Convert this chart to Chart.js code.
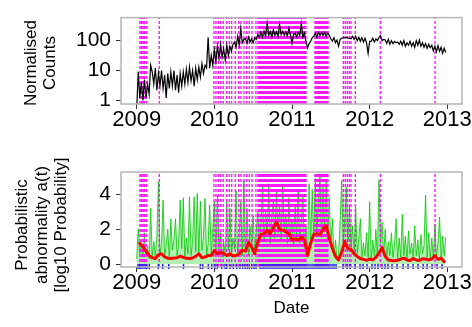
<!DOCTYPE html>
<html>
<head>
<meta charset="utf-8">
<script src="https://cdn.jsdelivr.net/npm/chart.js@4.4.1/dist/chart.umd.min.js"></script>
<style>
  html, body { margin: 0; padding: 0; background: #fff; }
  #wrap { position: relative; width: 472px; height: 327px; }
  canvas { position: absolute; left: 0; }
  #top { top: 0; }
  #bottom { top: 140px; }
</style>
</head>
<body>
<div id="wrap">
  <canvas id="top" width="472" height="140"></canvas>
  <canvas id="bottom" width="472" height="187"></canvas>
</div>
<script>
// sampling grid of the series (decimal years)
const seriesStart = 2009.0;
const seriesStep = 0.02;
const smoothStart = 2009.04;
const smoothStep = 0.04;

const yearTicks = [2009, 2010, 2011, 2012, 2013];
const countTicks = [1, 10, 100];
const abnormTicks = [0, 2, 4];

// normalised counts, one value per grid step
const counts = [
  0.5, 9, 1.2, 4, 1.0, 5, 1.2, 3.5, 1.6, 15,
  9, 3.5, 12, 2.2, 8, 3, 10, 2.5, 7, 1.2,
  8, 2.5, 9, 3, 10, 2.2, 7, 1.8, 8, 3,
  9, 3.5, 11, 4, 13, 4.5, 10, 3, 12, 5,
  13, 6, 17, 8, 15, 12, 130, 12, 32, 15,
  50, 20, 65, 25, 75, 28, 55, 22, 70, 32,
  65, 45, 75, 90, 60, 140, 70, 250, 85, 110,
  120, 80, 130, 90, 115, 85, 125, 110, 160, 130,
  190, 130, 210, 140, 380, 150, 200, 130, 230, 150,
  200, 140, 350, 160, 210, 150, 200, 140, 260, 160,
  80, 160, 180, 130, 190, 150, 380, 130, 180, 95,
  57, 80, 95, 125, 140, 180, 130, 190, 150, 185,
  150, 190, 140, 180, 150, 115, 95, 125, 85, 105,
  65, 110, 120, 125, 125, 130, 120, 120, 115, 140,
  110, 140, 100, 130, 95, 125, 90, 120, 85, 37,
  95, 95, 120, 90, 115, 100, 130, 150, 100, 110,
  105, 80, 110, 75, 100, 80, 95, 85, 90, 75,
  95, 70, 100, 65, 85, 70, 95, 65, 85, 60,
  100, 70, 105, 65, 85, 60, 80, 55, 75, 58,
  70, 45, 65, 42, 68, 44, 60, 38, 56, 40
];

// abnormality a(t), same grid
const abnormality = [
  0.3, 2.05, 0.6, 1.2, 0.4, 1.8, 0.5, 1.0, 0.3, 3.2,
  0.4, 1.3, 0.5, 1.6, 4.7, 0.6, 1.2, 3.66, 0.4, 1.1,
  2.0, 0.3, 2.6, 0.8, 1.4, 2.6, 0.5, 1.2, 3.66, 0.9,
  3.8, 0.4, 1.5, 0.6, 3.85, 0.5, 1.3, 3.85, 0.7, 4.05,
  0.5, 3.6, 0.8, 1.6, 3.77, 0.4, 1.2, 3.4, 0.6, 1.9,
  3.6, 0.5, 3.94, 0.7, 1.8, 0.4, 1.3, 0.6, 3.56, 0.8,
  3.2, 0.5, 1.5, 0.9, 4.2, 0.6, 1.7, 3.56, 0.5, 4.8,
  0.7, 3.2, 0.5, 2.2, 1.0, 2.8, 0.6, 1.9, 3.0, 1.2,
  2.4, 4.4, 1.3, 3.0, 1.6, 4.6, 1.2, 2.8, 3.6, 1.5,
  4.2, 1.8, 3.3, 1.4, 4.6, 2.0, 2.9, 1.2, 3.8, 1.6,
  2.6, 1.0, 3.4, 1.5, 4.3, 1.2, 2.5, 3.9, 1.0, 2.2,
  0.4, 4.6, 1.2, 4.3, 1.6, 4.9, 1.8, 3.6, 5.0, 1.5,
  4.4, 2.0, 4.8, 1.4, 3.8, 1.0, 2.6, 0.5, 1.4, 0.3,
  0.6, 2.5, 4.8, 1.2, 2.6, 4.4, 1.3, 3.3, 0.9, 2.2,
  0.5, 3.27, 0.6, 1.5, 2.6, 0.4, 1.2, 0.5, 1.8, 0.4,
  3.56, 0.3, 1.4, 0.5, 2.0, 0.4, 4.8, 1.2, 2.4, 0.5,
  2.0, 0.3, 1.3, 0.5, 1.8, 0.4, 1.1, 2.6, 0.3, 1.5,
  0.4, 2.85, 0.5, 1.6, 0.3, 1.9, 0.6, 1.2, 0.4, 2.2,
  0.5, 1.4, 0.3, 1.7, 0.6, 1.1, 3.94, 0.4, 1.8, 0.3,
  1.5, 0.4, 2.3, 0.5, 1.2, 2.7, 0.3, 1.6, 0.5, 1.56
];

// smoothed abnormality (red)
const smoothed = [
  1.2, 1.0, 0.75, 0.5, 0.38, 0.33, 0.55, 0.6, 0.42, 0.35,
  0.33, 0.36, 0.38, 0.46, 0.4, 0.34, 0.33, 0.36, 0.45, 0.6,
  0.38, 0.42, 0.5, 0.5, 0.78, 0.6, 0.68, 0.62, 0.5, 0.6,
  0.48, 0.5, 0.6, 0.8, 0.75, 1.25, 1.0, 0.6, 1.3, 1.7,
  1.75, 1.95, 1.75, 2.1, 2.4, 2.0, 1.95, 1.85, 1.75, 1.4,
  1.45, 1.4, 1.55, 1.4, 0.5, 1.2, 1.7, 1.75, 1.7, 2.0,
  2.2, 1.5, 0.9, 0.45, 0.25, 0.7, 1.3, 0.9, 0.85, 0.6,
  0.45, 0.33, 0.28, 0.23, 0.3, 0.25, 0.4, 0.65, 0.95, 0.45,
  0.25, 0.22, 0.2, 0.23, 0.3, 0.35, 0.25, 0.22, 0.33, 0.25,
  0.22, 0.32, 0.3, 0.25, 0.3, 0.5, 0.28, 0.35, 0.15
];

// flagged events (magenta dashed lines)
const eventDates = [
  2009.042, 2009.062, 2009.081, 2009.100, 2009.126, 2009.291,
  2009.995, 2010.021, 2010.051, 2010.082, 2010.115, 2010.159, 2010.193, 2010.223,
  2010.270, 2010.314, 2010.343, 2010.382, 2010.417, 2010.450, 2010.485, 2010.536,
  2010.562, 2010.579, 2010.596, 2010.612, 2010.629, 2010.646, 2010.662, 2010.679,
  2010.696, 2010.712, 2010.729, 2010.746, 2010.762, 2010.779, 2010.796, 2010.812,
  2010.829, 2010.846, 2010.862, 2010.879, 2010.896, 2010.912, 2010.929, 2010.946,
  2010.962, 2010.979, 2010.996, 2011.012, 2011.029, 2011.046, 2011.062, 2011.079,
  2011.096, 2011.112, 2011.129, 2011.146, 2011.162, 2011.179,
  2011.296, 2011.313, 2011.329, 2011.346, 2011.363, 2011.379, 2011.396, 2011.413,
  2011.429, 2011.446, 2011.463,
  2011.661, 2011.686, 2011.712, 2011.738, 2011.760, 2011.815,
  2012.137, 2012.842
];

// days flagged at the bottom (blue ticks)
const flagDates = [
  2009.017, 2009.036, 2009.055, 2009.081, 2009.107, 2009.129, 2009.162, 2009.278,
  2009.335, 2009.413, 2009.603, 2009.819, 2009.850, 2009.922, 2009.966,
  2010.008, 2010.038, 2010.095, 2010.137, 2010.159, 2010.202, 2010.244, 2010.288,
  2010.330, 2010.365, 2010.395, 2010.424, 2010.450, 2010.481, 2010.511, 2010.536,
  2010.588, 2010.614, 2010.639, 2010.665, 2010.691, 2010.717, 2010.743, 2010.768,
  2010.794, 2010.820, 2010.846, 2010.871, 2010.897, 2010.923, 2010.949, 2010.974,
  2011.000, 2011.026, 2011.052, 2011.077, 2011.103, 2011.129, 2011.155, 2011.180,
  2011.206, 2011.232, 2011.258, 2011.283, 2011.309, 2011.335, 2011.361, 2011.386,
  2011.412, 2011.438, 2011.464, 2011.489, 2011.515, 2011.541, 2011.567,
  2011.657, 2011.708, 2011.747, 2011.811, 2011.876, 2011.914, 2011.966,
  2012.030, 2012.069, 2012.107, 2012.159, 2012.198, 2012.236, 2012.288, 2012.352,
  2012.430, 2012.494, 2012.559, 2012.623, 2012.688, 2012.739, 2012.803, 2012.868,
  2012.932
];

const X_MIN = 2008.798, X_MAX = 2013.189;
const COUNT_MIN = 0.758, COUNT_MAX = 590;
const AB_MIN = -0.154, AB_MAX = 5.27;

const FONT = '"Liberation Sans", Arial, sans-serif';
const magenta = 'rgba(255,0,255,0.9)';

function onGrid(values, start, step) {
  return values.map((v, i) => ({ x: start + i * step, y: v }));
}

function eventLines(dates, lo, hi) {
  const pts = [];
  dates.forEach(d => {
    pts.push({ x: d, y: lo }, { x: d, y: hi }, { x: d, y: null });
  });
  return pts;
}

// grey box around the plot and the hand-placed axis titles
const frame = {
  id: 'frame',
  afterDraw(chart, args, opts) {
    const { ctx, chartArea: a } = chart;
    ctx.save();
    ctx.strokeStyle = '#b5b5b5';
    ctx.lineWidth = 1.5;
    ctx.strokeRect(a.left, a.top, a.right - a.left, a.bottom - a.top);
    ctx.fillStyle = '#000';
    ctx.font = '17px ' + FONT;
    ctx.textAlign = 'center';
    ctx.textBaseline = 'alphabetic';
    opts.lines.forEach((line, k) => {
      ctx.save();
      ctx.translate(opts.x0 + k * opts.dx, opts.cy);
      ctx.rotate(-Math.PI / 2);
      ctx.fillText(line, 0, 0);
      ctx.restore();
    });
    if (opts.xTitle) {
      ctx.fillText(opts.xTitle, (a.left + a.right) / 2, opts.xTitleY);
    }
    ctx.restore();
  }
};

function xAxis(height) {
  return {
    type: 'linear',
    min: X_MIN,
    max: X_MAX,
    offset: false,
    afterBuildTicks: s => { s.ticks = yearTicks.map(v => ({ value: v })); },
    afterFit: s => { s.height = height; },
    grid: { drawOnChartArea: false, drawTicks: true, tickLength: 5, color: '#333' },
    border: { display: false },
    ticks: {
      color: '#000',
      font: { family: FONT, size: 22 },
      padding: -2,
      maxRotation: 0,
      callback: v => String(v)
    }
  };
}

function yTickStyle() {
  return {
    color: '#000',
    font: { family: FONT, size: 21 },
    padding: 5,
    callback: v => String(v)
  };
}

new Chart(document.getElementById('top'), {
  type: 'line',
  data: {
    datasets: [
      {
        data: onGrid(counts, seriesStart, seriesStep),
        borderColor: '#000',
        borderWidth: 1.2,
        pointRadius: 0,
        order: 1
      },
      {
        data: eventLines(eventDates, COUNT_MIN, COUNT_MAX),
        borderColor: magenta,
        borderWidth: 1.4,
        borderDash: [3, 2],
        pointRadius: 0,
        spanGaps: false,
        order: 2
      }
    ]
  },
  options: {
    responsive: false,
    animation: false,
    devicePixelRatio: 1,
    layout: { padding: { top: 8, right: 10, left: 0, bottom: 0 } },
    plugins: {
      legend: { display: false },
      tooltip: { enabled: false },
      frame: { lines: ['Normalised', 'Counts'], x0: 36, dx: 19, cy: 63 }
    },
    scales: {
      x: xAxis(36),
      y: {
        type: 'logarithmic',
        min: COUNT_MIN,
        max: COUNT_MAX,
        afterBuildTicks: s => { s.ticks = countTicks.map(v => ({ value: v })); },
        afterFit: s => { s.width = 121; },
        grid: { drawOnChartArea: false, drawTicks: true, tickLength: 5, color: '#333' },
        border: { display: false },
        ticks: yTickStyle()
      }
    }
  },
  plugins: [frame]
});

new Chart(document.getElementById('bottom'), {
  type: 'line',
  data: {
    datasets: [
      {
        data: onGrid(abnormality, seriesStart, seriesStep),
        borderColor: 'rgba(0,200,0,0.8)',
        backgroundColor: 'rgba(0,200,0,0.3)',
        fill: 'origin',
        borderWidth: 1,
        pointRadius: 0,
        order: 4
      },
      {
        data: eventLines(eventDates, AB_MIN, AB_MAX),
        borderColor: magenta,
        borderWidth: 1.4,
        borderDash: [3, 2],
        pointRadius: 0,
        spanGaps: false,
        order: 3
      },
      {
        data: onGrid(smoothed, smoothStart, smoothStep),
        borderColor: '#ff0000',
        borderWidth: 3,
        borderJoinStyle: 'round',
        borderCapStyle: 'round',
        pointRadius: 0,
        order: 2
      },
      {
        data: flagDates.map(d => ({ x: d, y: -0.13 })),
        showLine: false,
        pointStyle: 'line',
        rotation: 90,
        pointRadius: 2.5,
        pointBorderWidth: 1.5,
        pointBorderColor: '#1a1aff',
        clip: false,
        order: 1
      }
    ]
  },
  options: {
    responsive: false,
    animation: false,
    devicePixelRatio: 1,
    layout: { padding: { top: 32, right: 10, left: 0, bottom: 0 } },
    plugins: {
      legend: { display: false },
      tooltip: { enabled: false },
      filler: { propagate: false },
      frame: {
        lines: ['Probabilistic', 'abnormality a(t)', '[log10 Probability]'],
        x0: 27, dx: 19.5, cy: 85,
        xTitle: 'Date', xTitleY: 173
      }
    },
    scales: {
      x: xAxis(60),
      y: {
        type: 'linear',
        min: AB_MIN,
        max: AB_MAX,
        afterBuildTicks: s => { s.ticks = abnormTicks.map(v => ({ value: v })); },
        afterFit: s => { s.width = 121; },
        grid: { drawOnChartArea: false, drawTicks: true, tickLength: 5, color: '#333' },
        border: { display: false },
        ticks: yTickStyle()
      }
    }
  },
  plugins: [frame]
});
</script>
</body>
</html>
